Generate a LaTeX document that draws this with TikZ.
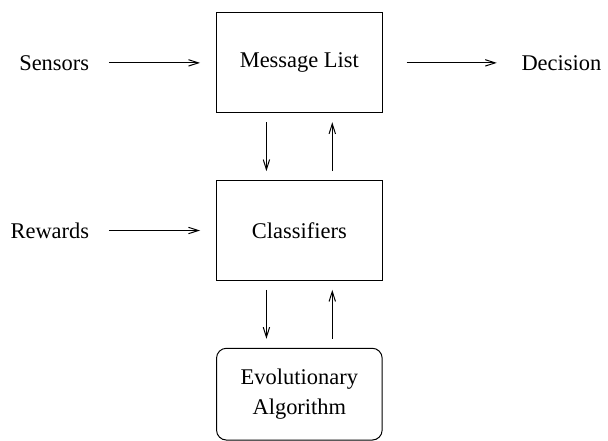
\documentclass[tikz,border=0pt]{standalone}
\usepackage{fontspec}
\setmainfont{Liberation Serif}
\usetikzlibrary{arrows.meta, positioning}

\begin{document}
\begin{tikzpicture}[auto, node distance=33.5pt, >={Straight Barb[length=5pt,width=3.2pt]},
    font=\fontsize{11.25}{15.5}\selectfont, line width=0.5pt,
    block/.style={draw, minimum width=83pt, minimum height=50pt},
    link/.style={->, shorten <=4.5pt, shorten >=4.5pt}]
    % Blocks
    \node [block] (msg) {Message List};
    \node [block, below=of msg] (cls) {Classifiers};
    \node [block, rounded corners=5pt, minimum height=46pt, align=center, below=of cls] (evo) {Evolutionary\\Algorithm};

    % Inputs / output
    \node [left=60pt of msg] (sens) {Sensors};
    \node [left=60pt of cls] (rew) {Rewards};
    \node [right=66pt of msg] (dec) {Decision};

    \draw [->, shorten <=6.3pt, shorten >=8pt] (sens) -- (msg.west);
    \draw [->, shorten <=6.3pt, shorten >=8pt] (rew) -- (cls.west);
    \draw [->, shorten <=12pt, shorten >=8.8pt] (msg.east) -- (dec);

    % Vertical links
    \draw [link] ([xshift=-16.5pt]msg.south) -- ([xshift=-16.5pt]cls.north);
    \draw [link] ([xshift=16.5pt]cls.north) -- ([xshift=16.5pt]msg.south);
    \draw [link] ([xshift=-16.5pt]cls.south) -- ([xshift=-16.5pt]evo.north);
    \draw [link] ([xshift=16.5pt]evo.north) -- ([xshift=16.5pt]cls.south);

    \useasboundingbox ([shift={(-150pt,31.5pt)}]msg.center) rectangle ([shift={(154pt,-188.5pt)}]msg.center);
\end{tikzpicture}
\end{document}
